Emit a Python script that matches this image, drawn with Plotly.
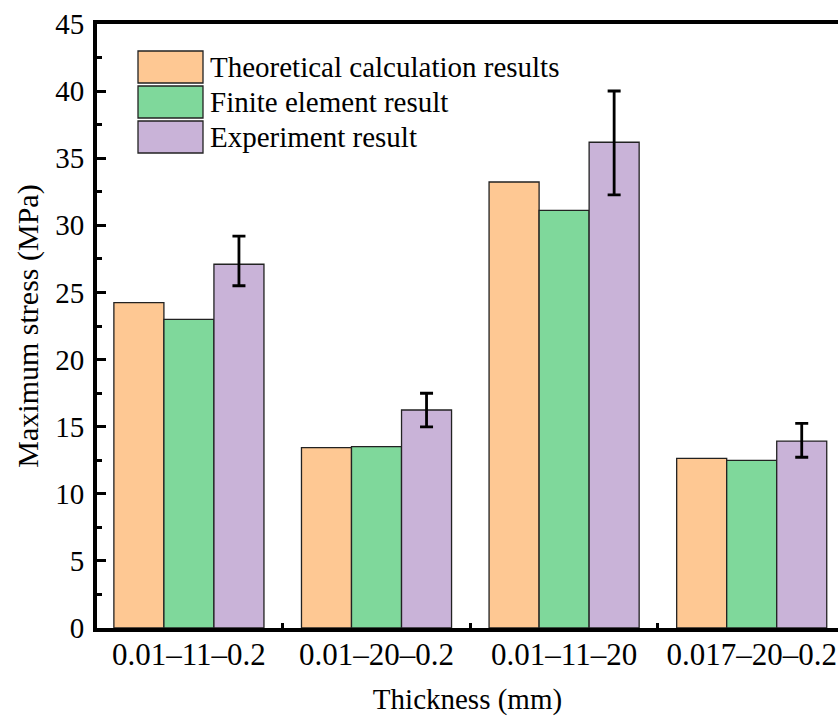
import plotly.graph_objects as go

categories = ["0.01–11–0.2", "0.01–20–0.2", "0.01–11–20", "0.017–20–0.2"]
series_names = ["Theoretical calculation results", "Finite element result", "Experiment result"]
theoretical = [24.24, 13.44, 33.23, 12.64]
finite_element = [23.0, 13.51, 31.12, 12.49]
experiment = [27.1, 16.24, 36.19, 13.93]
exp_err_plus = [2.1, 1.25, 3.82, 1.32]
exp_err_minus = [1.6, 1.26, 3.92, 1.21]
colors = ["#FEC893", "#7FD89B", "#C9B3D8"]

FONT = "Liberation Serif"
W, H = 838, 720
L, R, T, B = 97, 0, 24, 92

fig = go.Figure()
fig.add_trace(go.Bar(x=categories, y=theoretical, name=series_names[0],
                     marker=dict(color=colors[0], line=dict(color="#222222", width=1.3))))
fig.add_trace(go.Bar(x=categories, y=finite_element, name=series_names[1],
                     marker=dict(color=colors[1], line=dict(color="#222222", width=1.3))))
fig.add_trace(go.Bar(x=categories, y=experiment, name=series_names[2],
                     marker=dict(color=colors[2], line=dict(color="#222222", width=1.3)),
                     error_y=dict(type="data", symmetric=False, array=exp_err_plus,
                                  arrayminus=exp_err_minus, color="black",
                                  thickness=2.8, width=6.5)))

# custom legend (large swatches like the reference)
pw, ph = W - L - R, H - T - B
def px_x(v):
    return (v - L) / pw
def px_y(v):
    return (H - B - v) / ph

shapes = []
annotations = []
box_tops = [51, 86, 121]
for i, (nm, c) in enumerate(zip(series_names, colors)):
    y0 = box_tops[i]
    y1 = y0 + 32
    shapes.append(dict(type="rect", xref="paper", yref="paper",
                       x0=px_x(138), x1=px_x(203), y0=px_y(y1), y1=px_y(y0),
                       fillcolor=c, line=dict(color="#222222", width=1.3)))
    annotations.append(dict(xref="paper", yref="paper", x=px_x(208), y=px_y((y0 + y1) / 2),
                            text=nm, showarrow=False, xanchor="left", yanchor="middle",
                            font=dict(family=FONT, size=29, color="black")))

fig.update_layout(
    width=W, height=H,
    margin=dict(l=L, r=R, t=T, b=B, pad=0),
    paper_bgcolor="white", plot_bgcolor="white",
    barmode="group", bargap=0.2, bargroupgap=0,
    showlegend=False,
    font=dict(family=FONT, color="black"),
    shapes=shapes, annotations=annotations,
)
fig.update_xaxes(
    type="category", range=[-0.49, 3.46],
    showline=True, linecolor="black", linewidth=4, mirror=True,
    ticks="inside", tickson="boundaries", ticklen=5, tickwidth=3, tickcolor="black",
    tickfont=dict(family=FONT, size=31, color="black"),
    ticklabelstandoff=-4,
    showgrid=False, zeroline=False,
    title=dict(text="Thickness (mm)", font=dict(family=FONT, size=29, color="black"), standoff=18),
)
fig.update_yaxes(
    range=[0, 45], dtick=5,
    showline=True, linecolor="black", linewidth=4,
    ticks="inside", ticklen=9, tickwidth=3, tickcolor="black",
    minor=dict(dtick=2.5, ticks="inside", ticklen=5, tickwidth=3, tickcolor="black"),
    tickfont=dict(family=FONT, size=29, color="black"),
    ticklabelstandoff=3,
    showgrid=False, zeroline=False,
    title=dict(text="Maximum stress (MPa)", font=dict(family=FONT, size=30, color="black"), standoff=9),
)

fig.write_html("out.html")
